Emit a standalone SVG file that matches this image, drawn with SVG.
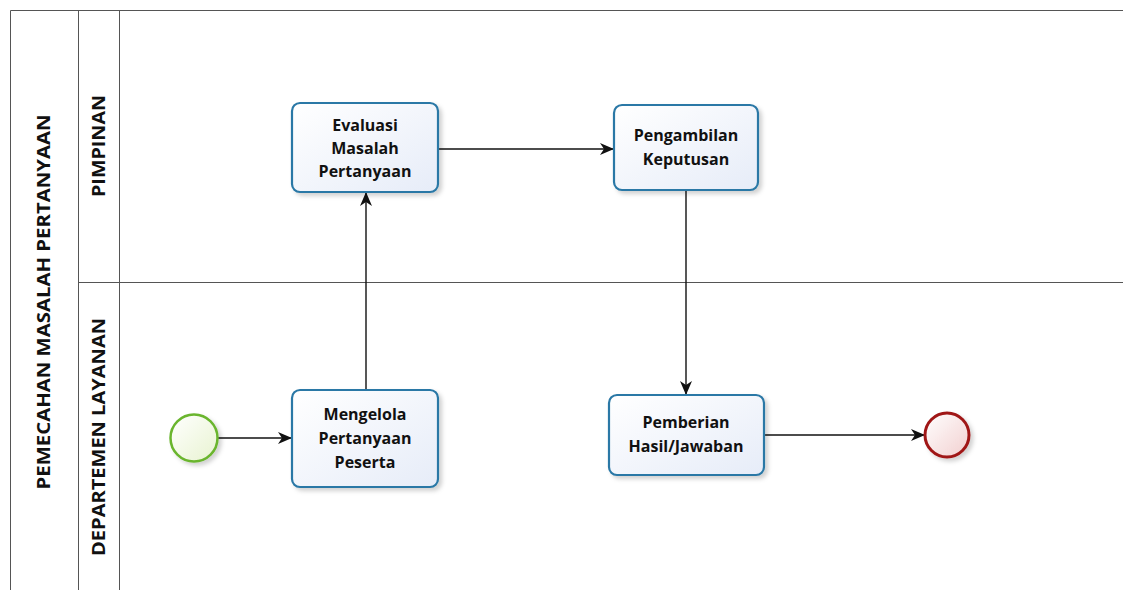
<svg xmlns="http://www.w3.org/2000/svg" width="1123" height="590" viewBox="0 0 1123 590">
<style>
.lane{fill:none;stroke:#555;stroke-width:1}
.task{stroke:#2a78a6;stroke-width:2.2}
.tt{font-family:"Open Sans","Noto Sans",sans-serif;font-weight:bold;font-size:16px;fill:#111;text-anchor:middle}
.lt{font-family:"Open Sans","Noto Sans",sans-serif;font-weight:bold;font-size:18px;fill:#111;text-anchor:middle}
.flow{stroke:#111;stroke-width:1.4;fill:none}
</style>
<defs>
<linearGradient id="tg" x1="0" y1="0" x2="1" y2="1">
<stop offset="0" stop-color="#ffffff"/>
<stop offset="1" stop-color="#e6ecf8"/>
</linearGradient>
<linearGradient id="sg" x1="0" y1="0" x2="1" y2="1">
<stop offset="0" stop-color="#ffffff"/>
<stop offset="1" stop-color="#e8f3d0"/>
</linearGradient>
<linearGradient id="eg" x1="0" y1="0" x2="1" y2="1">
<stop offset="0" stop-color="#ffffff"/>
<stop offset="1" stop-color="#f2cfcf"/>
</linearGradient>
<filter id="sh" x="-20%" y="-20%" width="150%" height="150%">
<feDropShadow dx="3" dy="3" stdDeviation="2" flood-color="#000" flood-opacity="0.18"/>
</filter>
<marker id="ah" viewBox="0 0 14 12" refX="14" refY="6" markerWidth="14" markerHeight="12" markerUnits="userSpaceOnUse" orient="auto">
<path d="M0,0 L14,6 L0,12 L4,6 Z" fill="#111"/>
</marker>
</defs>
<rect width="1123" height="590" fill="#fff"/>
<g id="pool">
<path class="lane" d="M10.5,590 V10.5 H1123"/>
<line class="lane" x1="78.5" y1="10" x2="78.5" y2="590"/>
<line class="lane" x1="119.5" y1="10" x2="119.5" y2="590"/>
<line class="lane" x1="78" y1="282.5" x2="1123" y2="282.5"/>
<text class="lt" transform="translate(50,302) rotate(-90)" textLength="375" lengthAdjust="spacingAndGlyphs">PEMECAHAN MASALAH PERTANYAAN</text>
<text class="lt" transform="translate(105,146) rotate(-90)" textLength="102" lengthAdjust="spacingAndGlyphs">PIMPINAN</text>
<text class="lt" transform="translate(105,437) rotate(-90)" textLength="238" lengthAdjust="spacingAndGlyphs">DEPARTEMEN LAYANAN</text>
</g>
<g id="connectors">
<line class="flow" x1="218" y1="438" x2="292" y2="438" marker-end="url(#ah)"/>
<line class="flow" x1="366" y1="390" x2="366" y2="192" marker-end="url(#ah)"/>
<line class="flow" x1="438" y1="149" x2="614" y2="149" marker-end="url(#ah)"/>
<line class="flow" x1="686" y1="190" x2="686" y2="395" marker-end="url(#ah)"/>
<line class="flow" x1="764" y1="435" x2="925" y2="435" marker-end="url(#ah)"/>
</g>
<g id="start">
<circle cx="194" cy="438" r="23.5" fill="url(#sg)" stroke="#6ab52e" stroke-width="2.5" filter="url(#sh)"/>
</g>
<g id="task-mengelola">
<rect class="task" x="292" y="390" width="146" height="97" rx="8" fill="url(#tg)" filter="url(#sh)"/>
<text class="tt" x="365" y="420">Mengelola</text>
<text class="tt" x="365" y="444">Pertanyaan</text>
<text class="tt" x="365" y="468">Peserta</text>
</g>
<g id="task-evaluasi">
<rect class="task" x="292" y="103" width="146" height="89" rx="8" fill="url(#tg)" filter="url(#sh)"/>
<text class="tt" x="365" y="131">Evaluasi</text>
<text class="tt" x="365" y="154">Masalah</text>
<text class="tt" x="365" y="177">Pertanyaan</text>
</g>
<g id="task-pengambilan">
<rect class="task" x="614" y="105" width="144" height="85" rx="8" fill="url(#tg)" filter="url(#sh)"/>
<text class="tt" x="686" y="141">Pengambilan</text>
<text class="tt" x="686" y="165">Keputusan</text>
</g>
<g id="task-pemberian">
<rect class="task" x="609" y="395" width="155" height="80" rx="8" fill="url(#tg)" filter="url(#sh)"/>
<text class="tt" x="686" y="428">Pemberian</text>
<text class="tt" x="686" y="452">Hasil/Jawaban</text>
</g>
<g id="end">
<circle cx="947" cy="435" r="22" fill="url(#eg)" stroke="#a01818" stroke-width="3" filter="url(#sh)"/>
</g>
</svg>
